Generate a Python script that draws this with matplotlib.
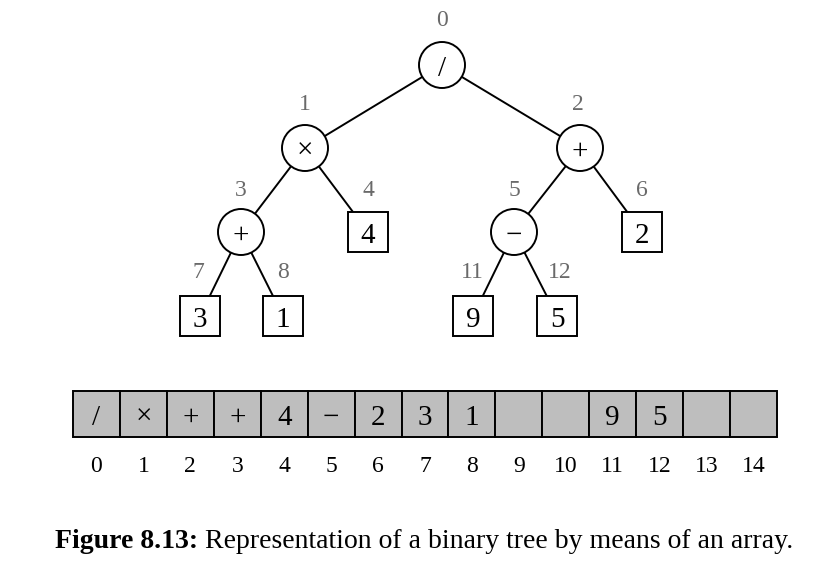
import matplotlib.pyplot as plt
from matplotlib.patches import Circle, Rectangle

plt.rcParams['font.family'] = ['Liberation Serif', 'DejaVu Serif']

# tree nodes: index -> symbol, operators drawn as circles, operands as squares
node_index = [0, 1, 2, 3, 4, 5, 6, 7, 8, 11, 12]
node_symbol = ['/', '×', '+', '+', '4', '−', '2', '3', '1', '9', '5']
operators = {0, 1, 2, 3, 5}
# array representation
array_values = ['/', '×', '+', '+', '4', '−', '2', '3', '1', '', '', '9', '5', '', '']
caption_bold = 'Figure 8.13:'
caption_text = ' Representation of a binary tree by means of an array.'

# layout (pixel coordinates)
pos = {0: (442, 65), 1: (305, 148), 2: (580, 148), 3: (241, 232), 4: (368, 232),
       5: (514, 232), 6: (642, 232), 7: (200, 316), 8: (283, 316),
       11: (473, 316), 12: (557, 316)}
label_off = {0: (0, -44), 1: (0, -43), 2: (-2, -43), 3: (0, -42), 4: (0, -42),
             5: (0, -42), 6: (0, -42), 7: (-2, -43), 8: (0, -43), 11: (-1, -43), 12: (3, -43)}

fig = plt.figure(figsize=(8.39, 5.62), dpi=100)
ax = fig.add_axes([0, 0, 1, 1])
ax.set_xlim(0, 839)
ax.set_ylim(562, 0)
ax.axis('off')

for i in node_index:
    for c in (2 * i + 1, 2 * i + 2):
        if c in pos:
            ax.plot([pos[i][0], pos[c][0]], [pos[i][1], pos[c][1]], color='black', lw=1.4, zorder=1)

gray = '#6a6a6a'
for i, s in zip(node_index, node_symbol):
    x, y = pos[i]
    if i in operators:
        ax.add_patch(Circle((x, y), 23, facecolor='white', edgecolor='black', lw=1.4, zorder=2))
    else:
        ax.add_patch(Rectangle((x - 20, y - 20), 40, 40, facecolor='white', edgecolor='black', lw=1.4, zorder=2))
    ax.text(x, y + 1, s, ha='center', va='center_baseline', fontsize=21, zorder=3)
    dx, dy = label_off[i]
    ax.text(x + dx, y + dy, str(i), ha='center', va='center', fontsize=17, color=gray)

x0, x1, y0, y1 = 73, 777, 391, 437
w = (x1 - x0) / len(array_values)
for k, v in enumerate(array_values):
    ax.add_patch(Rectangle((x0 + k * w, y0), w, y1 - y0, facecolor='#bebebe', edgecolor='black', lw=1.4))
    ax.text(x0 + (k + 0.5) * w, (y0 + y1) / 2 + 1, v, ha='center', va='center_baseline', fontsize=21)
    ax.text(x0 + (k + 0.5) * w, 467, str(k), ha='center', va='center', fontsize=17)

t = ax.text(55, 541, caption_bold, ha='left', va='center', fontsize=20, fontweight='bold')
fig.canvas.draw()
bb = t.get_window_extent()
inv = ax.transData.inverted()
xe = inv.transform((bb.x1, 0))[0]
ax.text(xe, 541, caption_text, ha='left', va='center', fontsize=20)

fig.savefig('out.png', dpi=100)
